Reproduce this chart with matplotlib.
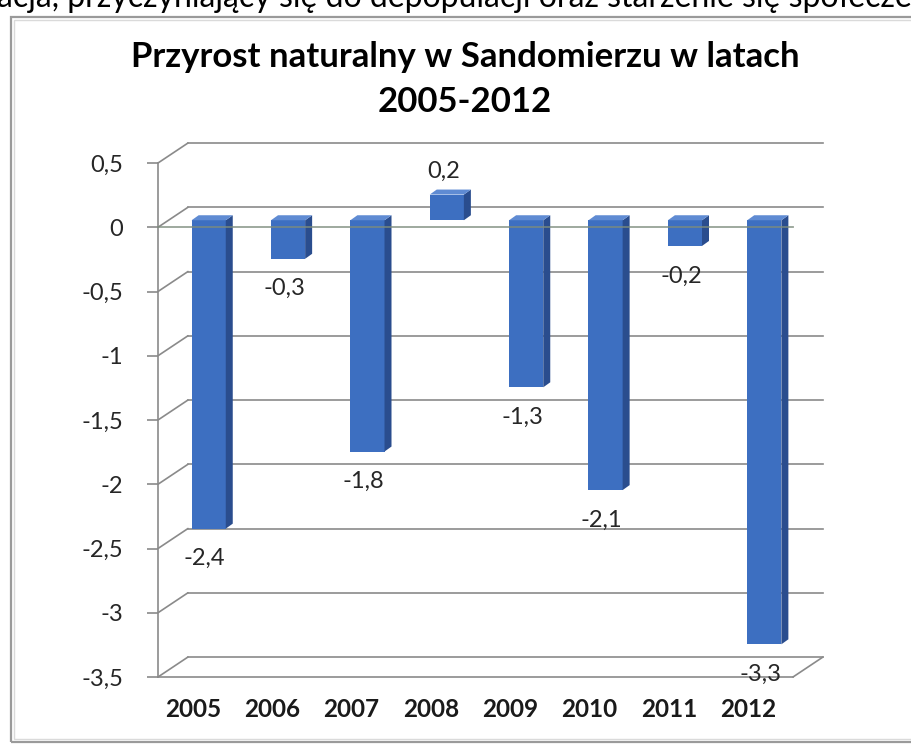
import matplotlib
matplotlib.use('Agg')
import matplotlib.pyplot as plt
from matplotlib.transforms import ScaledTranslation
from matplotlib.patches import Polygon, Rectangle

years = ['2005', '2006', '2007', '2008', '2009', '2010', '2011', '2012']
values = [-2.4, -0.3, -1.8, 0.2, -1.3, -2.1, -0.2, -3.3]
value_labels = ['-2,4', '-0,3', '-1,8', '0,2', '-1,3', '-2,1', '-0,2', '-3,3']
yticks = [0.5, 0, -0.5, -1, -1.5, -2, -2.5, -3, -3.5]
ytick_labels = ['0,5', '0', '-0,5', '-1', '-1,5', '-2', '-2,5', '-3', '-3,5']
title_lines = ['Przyrost naturalny w Sandomierzu w latach', '2005-2012']
top_text = 'acja, przyczyniający się do depopulacji oraz starzenie się społeczeństwa'

W, H, DPI = 911, 744, 100
plt.rcParams['font.family'] = ['Lato', 'DejaVu Sans']

fig = plt.figure(figsize=(W / DPI, H / DPI), dpi=DPI)
fig.patch.set_facecolor('white')


def fx(px):
    return px / W


def fy(py):
    return 1 - py / H


# chart frame
fig.patches.append(Rectangle((fx(11), fy(742)), 1.2, fy(17) - fy(742), transform=fig.transFigure,
                             fill=False, edgecolor='#9A9A9A', lw=1.6, zorder=0))
fig.patches.append(Rectangle((fx(14), fy(739)), 1.2, fy(20) - fy(739), transform=fig.transFigure,
                             fill=False, edgecolor='#DADADA', lw=1.0, zorder=0))

# clipped line of text from the page above
fig.text(-0.003, fy(7), top_text, fontsize=23, color='black', ha='left', va='baseline')

# title
fig.text(fx(465), fy(67), title_lines[0], fontsize=25, fontweight='bold', ha='center', va='baseline', color='black')
fig.text(fx(465), fy(112), title_lines[1], fontsize=25, fontweight='bold', ha='center', va='baseline', color='black')

ax = fig.add_axes([fx(158), fy(677), fx(793) - fx(158), fy(163) - fy(677)])
ax.set_xlim(-0.5, 7.5)
ax.set_ylim(-3.5, 0.5)
ax.patch.set_alpha(0)
for s in ['top', 'right', 'bottom']:
    ax.spines[s].set_visible(False)
grid_c = '#8A8A8A'
ax.spines['left'].set_color(grid_c)
ax.spines['left'].set_linewidth(1.2)
ax.set_yticks(yticks)
ax.set_yticklabels(ytick_labels)
ax.tick_params(axis='y', length=8, width=1.2, color=grid_c, pad=17, labelsize=17, labelcolor='#262626')
ax.set_xticks(range(len(years)))
ax.set_xticklabels(years, fontweight='bold', fontsize=17.5, color='#1A1A1A')
ax.tick_params(axis='x', length=0, pad=15)
for lbl in ax.get_xticklabels():
    lbl.set_transform(lbl.get_transform() + ScaledTranslation(-0.05, 0, fig.dpi_scale_trans))

# 3D depth geometry (pixels)
DX, DY = 30, 20
back = ax.transData + ScaledTranslation(DX / DPI, DY / DPI, fig.dpi_scale_trans)
x0, x1 = ax.get_xlim()

for t in yticks:
    ax.plot([x0, x1], [t, t], color=grid_c, lw=1.2, transform=back, zorder=1, clip_on=False)
    ax.annotate('', xy=(x0, t), xytext=(DX, DY), textcoords='offset pixels',
                arrowprops=dict(arrowstyle='-', color=grid_c, lw=1.2, shrinkA=0, shrinkB=0), zorder=1,
                annotation_clip=False)

# floor front edge & right diagonal
ymin = ax.get_ylim()[0]
ax.plot([x0, x1], [ymin, ymin], color=grid_c, lw=1.2, zorder=2, clip_on=False)
ax.annotate('', xy=(x1, ymin), xytext=(DX, DY), textcoords='offset pixels',
            arrowprops=dict(arrowstyle='-', color=grid_c, lw=1.2, shrinkA=0, shrinkB=0), zorder=2,
            annotation_clip=False)

# bars
BOX, BOY = 11, 7      # bar front face offset (px)
SX, SY = 7, 5          # bar depth (px)
bw = 0.43
front_t = ax.transData + ScaledTranslation(BOX / DPI, BOY / DPI, fig.dpi_scale_trans)
ux = ax.bbox.width / (x1 - x0)
uy = ax.bbox.height / (ax.get_ylim()[1] - ax.get_ylim()[0])
ddx, ddy = SX / ux, SY / uy

front_c, side_c, top_c = '#3D6FC1', '#2A4D8E', '#5F8BD3'
bars = ax.bar(range(len(years)), values, width=bw, color=front_c, transform=front_t, zorder=3, clip_on=False)
for b, v in zip(bars, values):
    xl, xr = b.get_x(), b.get_x() + b.get_width()
    lo, hi = min(0, v), max(0, v)
    side = Polygon([(xr, lo), (xr + ddx, lo + ddy), (xr + ddx, hi + ddy), (xr, hi)],
                   closed=True, facecolor=side_c, edgecolor='none', transform=front_t, zorder=3, clip_on=False)
    top = Polygon([(xl, hi), (xr, hi), (xr + ddx, hi + ddy), (xl + ddx, hi + ddy)],
                  closed=True, facecolor=top_c, edgecolor='none', transform=front_t, zorder=3, clip_on=False)
    ax.add_patch(side)
    ax.add_patch(top)

# front zero line drawn over the bars
ax.plot([x0, x1], [0, 0], color='#7C8C7C', lw=1.3, alpha=0.8, zorder=4, clip_on=False)

# data labels
for i, (v, lab) in enumerate(zip(values, value_labels)):
    off = (8, 30) if v > 0 else (7, -23)
    ax.annotate(lab, xy=(i, v), xytext=off, textcoords='offset pixels', ha='center', va='center',
                fontsize=17, color='#262626', zorder=5, annotation_clip=False)

fig.savefig('out.png', dpi=DPI, facecolor='white')
